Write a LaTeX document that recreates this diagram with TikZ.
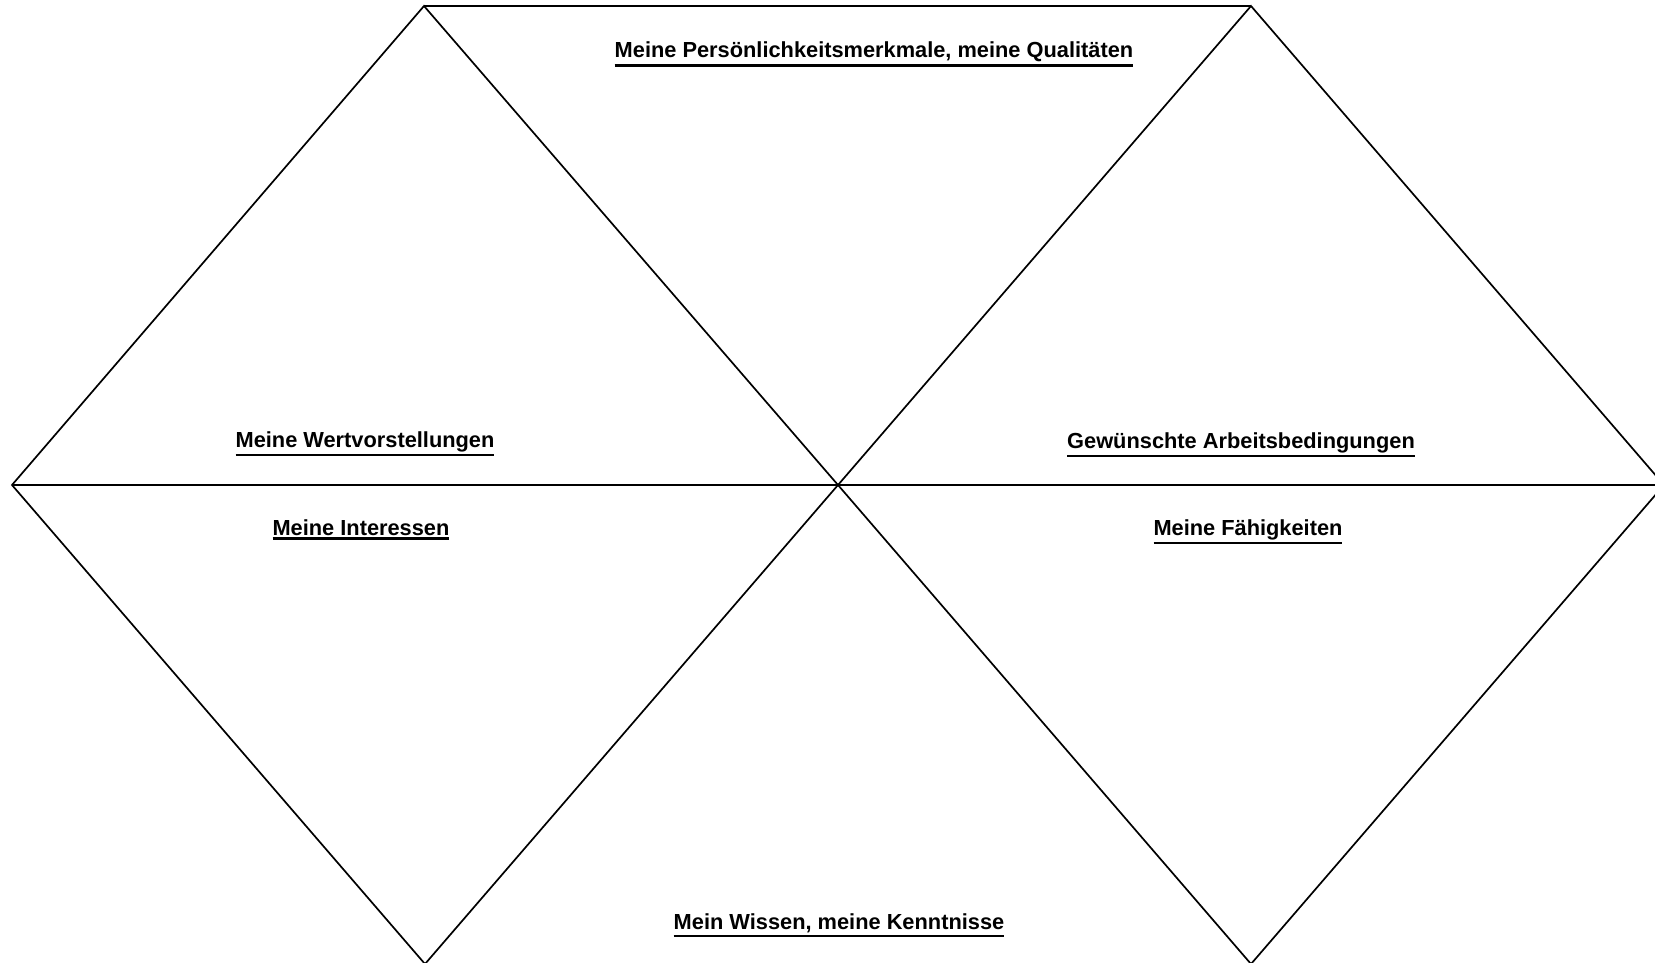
\documentclass[tikz,border=0pt]{standalone}
\usepackage{fontspec}
\setmainfont{Liberation Sans}
\newcommand\myul[1]{\vtop{\hbox{#1}\kern2.2pt\hrule height 2.2pt}}
\begin{document}
\begin{tikzpicture}[x=1pt,y=-1pt,
  edge/.style={draw=black,line width=1.7pt,line join=miter},
  lbl/.style={anchor=base,inner sep=0pt,font=\fontsize{21.8}{24}\selectfont\bfseries}]
\useasboundingbox (0,0) rectangle (1655,963);
\clip (0,0) rectangle (1655,963);
\coordinate (A) at (424,6);
\coordinate (B) at (1251,6);
\coordinate (L) at (12,485);
\coordinate (C) at (838,485);
\coordinate (R) at (1664,485);
\coordinate (D1) at (425,964);
\coordinate (D2) at (1251,964);
\draw[edge] (A) -- (B);
\draw[edge] (L) -- (R);
\draw[edge] (L) -- (A) -- (C) -- (D1) -- cycle;
\draw[edge] (C) -- (B) -- (R) -- (D2) -- cycle;
\node[lbl] (t1) at (874,58) {\myul{Meine Persönlichkeitsmerkmale, meine Qualitäten}};
\node[lbl] (t2) at (365,447) {\myul{Meine Wertvorstellungen}};
\node[lbl] (t3) at (361,535) {\myul{Meine Interessen}};
\node[lbl] (t4) at (1241,448) {\myul{Gewünschte Arbeitsbedingungen}};
\node[lbl] (t5) at (1248,535) {\myul{Meine Fähigkeiten}};
\node[lbl] (t6) at (839,929) {\myul{Mein Wissen, meine Kenntnisse}};
\end{tikzpicture}
\end{document}
